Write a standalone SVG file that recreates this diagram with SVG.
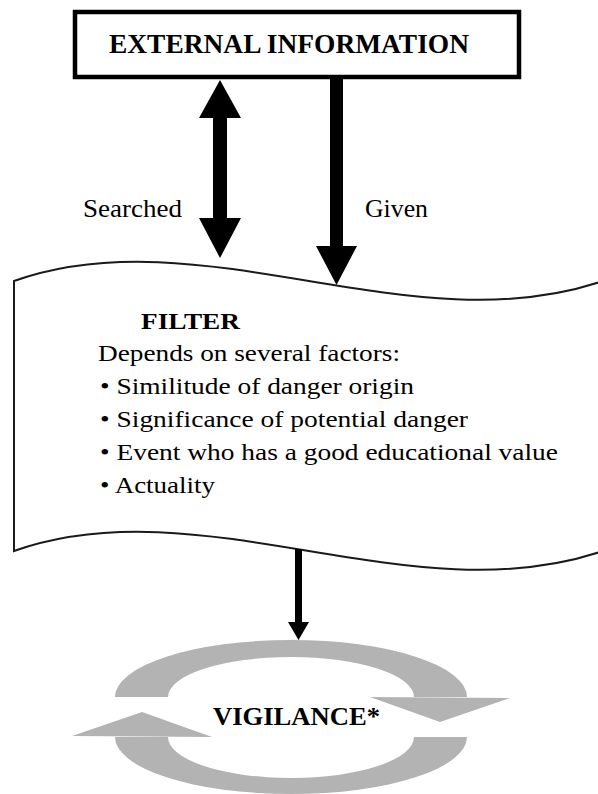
<svg xmlns="http://www.w3.org/2000/svg" width="598" height="794" viewBox="0 0 598 794">
<style>
text{font-family:'Liberation Serif','Times New Roman',Times,serif;fill:#000}
.b{font-weight:bold}
.lbl{font-size:26px}
.body{font-size:23px}
.ring{fill:#b3b3b3}
.arrow{fill:#000}
</style>
<rect width="598" height="794" fill="#fff"/>
<g id="external" font-family="Liberation Serif, serif">
<rect x="75" y="12" width="444" height="65" fill="#fff" stroke="#000" stroke-width="4.5"/>
<text class="b" x="109" y="53" font-size="27" textLength="360" lengthAdjust="spacingAndGlyphs">EXTERNAL INFORMATION</text>
</g>
<g id="filter" font-family="Liberation Serif, serif">
<path d="M14,281 C200,215 410,345 600,282 L606,282 L606,552 L600,552 C410,615 200,485 14,551 Z" fill="#fff" stroke="#1a1a1a" stroke-width="2"/>
<text class="b" x="141" y="329" font-size="23.5" textLength="99" lengthAdjust="spacingAndGlyphs">FILTER</text>
<text class="body" x="98" y="361" textLength="302" lengthAdjust="spacingAndGlyphs">Depends on several factors:</text>
<text class="body" x="100" y="394" textLength="314" lengthAdjust="spacingAndGlyphs">• Similitude of danger origin</text>
<text class="body" x="100" y="427" textLength="368" lengthAdjust="spacingAndGlyphs">• Significance of potential danger</text>
<text class="body" x="100" y="460" textLength="458" lengthAdjust="spacingAndGlyphs">• Event who has a good educational value</text>
<text class="body" x="100" y="493" textLength="115" lengthAdjust="spacingAndGlyphs">• Actuality</text>
</g>
<g id="vigilance" font-family="Liberation Serif, serif">
<path class="ring" d="M115,697 A176,57 0 0 1 467,697 L414,697 A123,40 0 0 0 168,697 Z"/>
<polygon class="ring" points="370,697 510,698 440,722"/>
<path class="ring" d="M115,737 A176,57 0 0 0 467,737 L414,737 A123,41 0 0 1 168,737 Z"/>
<polygon class="ring" points="72,736 142,712 212,737"/>
<text class="b" x="213" y="725" font-size="26" textLength="167" lengthAdjust="spacingAndGlyphs">VIGILANCE*</text>
</g>
<g id="connectors" font-family="Liberation Serif, serif">
<polygon class="arrow" points="220,80 241,118 227,118 227,218 241,218 220,258 199,218 213,218 213,118 199,118"/>
<polygon class="arrow" points="330,79 343,79 343,246 357,246 336.5,285 316,246 330,246"/>
<polygon class="arrow" points="295,549 302,549 302,622 309,622 298.5,640 288,622 295,622"/>
<text class="lbl" x="83" y="217" textLength="99" lengthAdjust="spacingAndGlyphs">Searched</text>
<text class="lbl" x="365" y="217" textLength="63" lengthAdjust="spacingAndGlyphs">Given</text>
</g>
</svg>
